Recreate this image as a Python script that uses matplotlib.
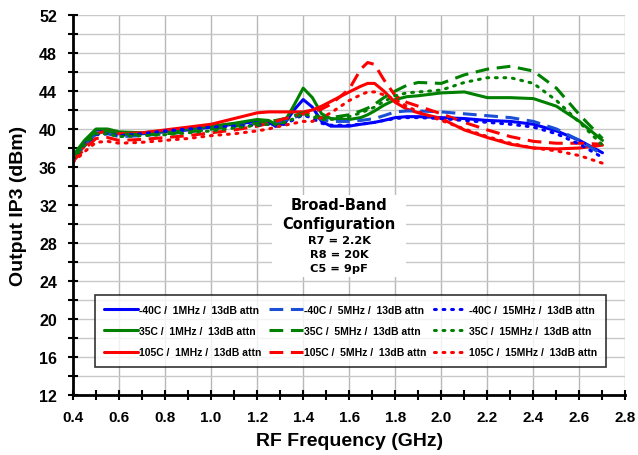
import matplotlib
matplotlib.use("Agg")
import matplotlib.pyplot as plt
from matplotlib.patches import Rectangle
from matplotlib.ticker import MultipleLocator, FormatStrFormatter

freq = [0.40, 0.45, 0.50, 0.55, 0.60, 0.70, 0.80, 0.90, 1.00, 1.10, 1.20,
        1.25, 1.28, 1.32, 1.36, 1.40, 1.44, 1.48, 1.52,
        1.60, 1.65, 1.68, 1.71, 1.75, 1.80, 1.85, 1.90,
        2.00, 2.10, 2.20, 2.30, 2.40, 2.50, 2.60, 2.70]

# -40C
m40_1 = [36.8, 38.6, 39.9, 39.8, 39.5, 39.5, 39.7, 39.9, 40.2, 40.5, 40.8,
         40.7, 40.3, 40.6, 42.0, 43.1, 42.3, 40.8, 40.3,
         40.3, 40.5, 40.6, 40.7, 40.9, 41.2, 41.3, 41.3,
         41.2, 41.1, 40.9, 40.8, 40.5, 39.8, 38.8, 37.5]
m40_5 = [36.8, 38.3, 39.5, 39.5, 39.2, 39.3, 39.5, 39.7, 40.0, 40.3, 40.6,
         40.7, 40.7, 40.9, 41.2, 41.6, 41.4, 41.0, 40.8,
         40.8, 40.9, 41.0, 41.1, 41.4, 41.8, 41.9, 41.9,
         41.8, 41.6, 41.4, 41.2, 40.8, 40.0, 38.8, 37.3]
m40_15 = [36.8, 38.3, 39.4, 39.5, 39.3, 39.5, 39.8, 40.0, 40.2, 40.3, 40.4,
          40.5, 40.3, 40.5, 41.0, 41.5, 41.1, 40.6, 40.4,
          40.4, 40.5, 40.6, 40.7, 40.9, 41.1, 41.2, 41.2,
          41.1, 40.9, 40.7, 40.5, 40.2, 39.5, 38.4, 37.0]
# 35C
p35_1 = [37.2, 38.8, 40.0, 40.0, 39.7, 39.6, 39.8, 40.0, 40.3, 40.6, 41.0,
         40.9, 40.5, 40.8, 42.5, 44.3, 43.3, 41.6, 41.1,
         41.0, 41.2, 41.5, 41.9, 42.5, 43.1, 43.4, 43.5,
         43.8, 43.9, 43.3, 43.3, 43.2, 42.4, 40.8, 38.8]
p35_5 = [37.0, 38.6, 39.8, 39.8, 39.5, 39.4, 39.5, 39.7, 40.0, 40.3, 40.6,
         40.8, 40.9, 41.1, 41.4, 41.7, 41.5, 41.2, 41.2,
         41.5, 41.9, 42.2, 42.6, 43.3, 44.0, 44.6, 44.9,
         44.8, 45.7, 46.3, 46.6, 46.1, 44.3, 41.5, 39.0]
p35_15 = [36.8, 38.3, 39.5, 39.5, 39.2, 39.3, 39.4, 39.6, 39.8, 40.1, 40.4,
          40.5, 40.5, 40.7, 41.1, 41.6, 41.3, 41.0, 41.0,
          41.3, 41.7, 42.0, 42.3, 42.9, 43.5, 43.8, 43.9,
          44.1, 44.9, 45.4, 45.4, 44.8, 43.0, 40.7, 38.3]
# 105C
p105_1 = [36.8, 38.2, 39.5, 39.8, 39.5, 39.6, 39.9, 40.2, 40.5, 41.1, 41.7,
          41.8, 41.8, 41.8, 41.8, 41.8, 42.0, 42.4, 42.9,
          43.9, 44.5, 44.8, 44.8, 44.0, 42.8, 42.1, 41.7,
          41.1, 39.9, 39.1, 38.4, 38.0, 37.9, 38.0, 38.3]
p105_5 = [36.6, 37.9, 39.0, 39.1, 38.8, 38.9, 39.1, 39.3, 39.6, 39.9, 40.3,
          40.6, 40.8, 41.1, 41.3, 41.6, 41.8, 42.1, 42.6,
          44.2, 46.3, 47.0, 46.8, 45.2, 43.5, 42.8, 42.4,
          41.6, 40.7, 39.9, 39.2, 38.7, 38.5, 38.5, 38.4]
p105_15 = [36.5, 37.6, 38.6, 38.7, 38.5, 38.6, 38.8, 39.0, 39.3, 39.5, 39.8,
           40.0, 40.2, 40.4, 40.6, 40.8, 40.8, 41.2, 41.7,
           43.0, 43.6, 43.9, 43.9, 43.6, 43.1, 42.4, 41.8,
           40.9, 40.0, 39.2, 38.5, 38.0, 37.7, 37.2, 36.4]

temps = ["-40C", "35C", "105C"]
rates = ["1MHz", "5MHz", "15MHz"]
series = {
    ("-40C", "1MHz"): m40_1, ("-40C", "5MHz"): m40_5, ("-40C", "15MHz"): m40_15,
    ("35C", "1MHz"): p35_1, ("35C", "5MHz"): p35_5, ("35C", "15MHz"): p35_15,
    ("105C", "1MHz"): p105_1, ("105C", "5MHz"): p105_5, ("105C", "15MHz"): p105_15,
}

colors = {"-40C": "#0000ff", "35C": "#008000", "105C": "#ff0000"}
dash_color = {"-40C": "#1a4fd6"}
styles = {"1MHz": "-", "5MHz": (0, (4.5, 2.5)), "15MHz": (0, (0.6, 2.2))}

plt.rcParams['font.family'] = ['Liberation Sans', 'DejaVu Sans']

fig = plt.figure(figsize=(6.38, 4.56), dpi=100)
ax = fig.add_axes([0.1144, 0.1316, 0.866, 0.8333])

# legend fills column by column -> loop rate outer, temp inner
for r in rates:
    for t in temps:
        c = colors[t]
        if r == "5MHz":
            c = dash_color.get(t, c)
        cap = "round" if r == "15MHz" else "butt"
        ax.plot(freq, series[(t, r)], color=c, linestyle=styles[r], lw=2.2,
                dash_capstyle=cap, solid_capstyle="round", solid_joinstyle="round",
                label="%s /  %s /  13dB attn" % (t, r))

ax.set_xlim(0.4, 2.8)
ax.set_ylim(12, 52)
ax.xaxis.set_major_locator(MultipleLocator(0.2))
ax.xaxis.set_minor_locator(MultipleLocator(0.1))
ax.yaxis.set_major_locator(MultipleLocator(4))
ax.yaxis.set_minor_locator(MultipleLocator(2))
ax.xaxis.set_major_formatter(FormatStrFormatter('%.1f'))

ax.grid(True, which='major', axis='x', color='#b8b8b8', lw=1.0)
ax.grid(True, which='both', axis='y', color='#c8c8c8', lw=1.0)
ax.set_axisbelow(True)

for s in ['top', 'right']:
    ax.spines[s].set_visible(False)
for s in ['left', 'bottom']:
    ax.spines[s].set_linewidth(2)

ax.tick_params(which='both', direction='inout', width=1.5, color='black', length=7)
ax.tick_params(axis='y', which='major', labelsize=11.5, pad=8)
ax.tick_params(axis='x', which='major', labelsize=11, pad=7)
for lbl in ax.get_xticklabels() + ax.get_yticklabels():
    lbl.set_fontweight('bold')

ax.set_xlabel("RF Frequency (GHz)", fontsize=14, fontweight='bold', labelpad=6)
ax.set_ylabel("Output IP3 (dBm)", fontsize=14, fontweight='bold', labelpad=9)

leg = ax.legend(ncol=3, loc='lower left', bbox_to_anchor=(0.04, 0.074, 0.925, 0.19),
                mode='expand', borderaxespad=0, frameon=True, fancybox=False, edgecolor='black',
                handlelength=3.2, handletextpad=0.1, borderpad=0.9, labelspacing=1.1,
                prop={'weight': 'bold', 'size': 7.5})
leg.get_frame().set_linewidth(1.2)

# white panel behind the configuration note
ax.add_patch(Rectangle((0.36, 0.31), 0.243, 0.216, transform=ax.transAxes,
                       facecolor='white', edgecolor='none', zorder=1.5))
cx = 0.482
note_big = ["Broad-Band", "Configuration"]
note_small = ["R7 = 2.2K", "R8 = 20K", "C5 = 9pF"]
for txt, yy in zip(note_big, [0.5026, 0.4526]):
    ax.text(cx, yy, txt, transform=ax.transAxes, ha='center', va='center',
            fontsize=10.5, fontweight='bold', family='DejaVu Sans', zorder=3)
for txt, yy in zip(note_small, [0.408, 0.372, 0.334]):
    ax.text(cx, yy, txt, transform=ax.transAxes, ha='center', va='center',
            fontsize=8.2, fontweight='bold', family='DejaVu Sans', zorder=3)

fig.savefig("out.png", dpi=100)
